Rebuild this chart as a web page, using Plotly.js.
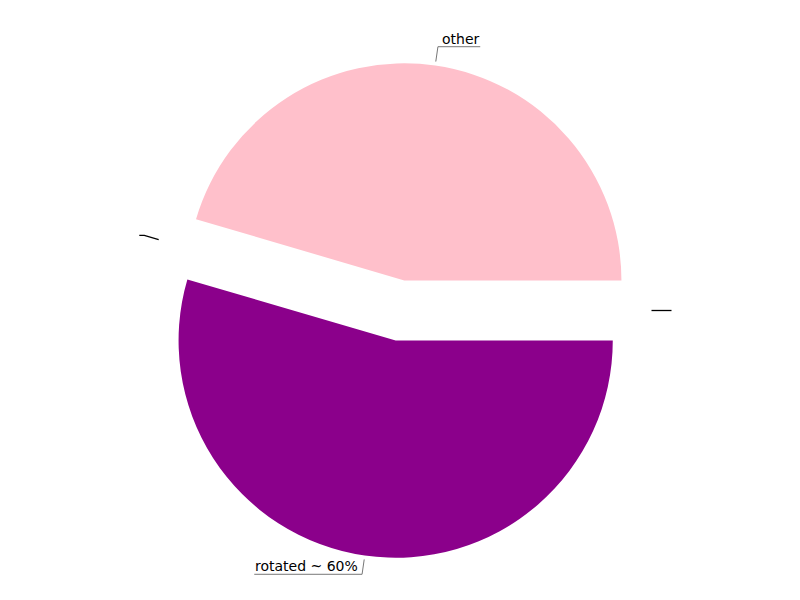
<!DOCTYPE html>
<html>
<head>
<meta charset="utf-8">
<script src="https://cdn.plot.ly/plotly-3.0.1.min.js"></script>
<style>html,body{margin:0;padding:0;background:#fff;}#chart{width:800px;height:600px;}</style>
</head>
<body>
<div id="chart"></div>
<script>
// ---- data ----
var labels = ["rotated ~ 60%", "zero A", "other", "zero B"];
var values = [6, 0, 5, 0];
var labelTexts = ["rotated ~ 60%", "", "other", ""];
var colors = ["#8B008B", "#ffffff", "#FFC0CB", "#ffffff"];
var pulls = [0.14, 0.14, 0.14, 0.14];

// ---- layout geometry ----
var W = 800, H = 600;
var M = {l: 80, r: 80, t: 63, b: 42};
var ROT = 90;
var FONT = "DejaVu Sans";
var FSIZE = 14;

var pw = W - M.l - M.r, ph = H - M.t - M.b;
var cx = M.l + pw / 2, cy = M.t + ph / 2;
var maxPull = Math.max.apply(null, pulls);
var R = Math.min(pw, ph) / 2 / (1 + maxPull);
var total = values.reduce(function (a, b) { return a + b; }, 0);

function toPX(x) { return (x - M.l) / pw; }
function toPY(y) { return 1 - (y - M.t) / ph; }

var canvas = document.createElement("canvas");
var ctx = canvas.getContext("2d");
ctx.font = FSIZE + "px '" + FONT + "'";

var shapes = [], annotations = [];
var cum = 0;
for (var i = 0; i < values.length; i++) {
  var mid = (ROT + 360 * (cum + values[i] / 2) / total) * Math.PI / 180;
  cum += values[i];
  var ux = Math.sin(mid), uy = -Math.cos(mid);
  var d0 = R * (1 + pulls[i]) + 4, d1 = d0 + 15;
  var x0 = cx + ux * d0, y0 = cy + uy * d0;
  var x1 = cx + ux * d1, y1 = cy + uy * d1;
  var side = ux >= -1e-9 ? 1 : -1;
  var txt = labelTexts[i];
  var tw = txt ? ctx.measureText(txt).width : 0;
  var x2 = x1 + side * (5 + tw);
  var hasText = !!txt;
  shapes.push({
    type: "path", xref: "paper", yref: "paper",
    path: "M" + toPX(x0) + "," + toPY(y0) + " L" + toPX(x1) + "," + toPY(y1) + " L" + toPX(x2) + "," + toPY(y1),
    line: {color: hasText ? "#777777" : "#000000", width: hasText ? 1 : 1.3}
  });
  if (hasText) {
    annotations.push({
      xref: "paper", yref: "paper",
      x: toPX(x1 + side * 4.5), y: toPY(y1),
      xanchor: side > 0 ? "left" : "right", yanchor: "bottom",
      text: txt, showarrow: false, borderpad: 0, borderwidth: 0,
      font: {family: FONT, size: FSIZE, color: "#000000"}
    });
  }
}

var trace = {
  type: "pie",
  labels: labels,
  values: values,
  textinfo: "none",
  pull: pulls,
  sort: false,
  direction: "clockwise",
  rotation: ROT,
  marker: {colors: colors},
  hoverinfo: "none"
};
var layout = {
  width: W, height: H,
  showlegend: false,
  margin: M,
  font: {family: FONT, size: FSIZE, color: "#000"},
  paper_bgcolor: "#fff",
  shapes: shapes,
  annotations: annotations
};
Plotly.newPlot("chart", [trace], layout, {displayModeBar: false, staticPlot: true});
</script>
</body>
</html>
